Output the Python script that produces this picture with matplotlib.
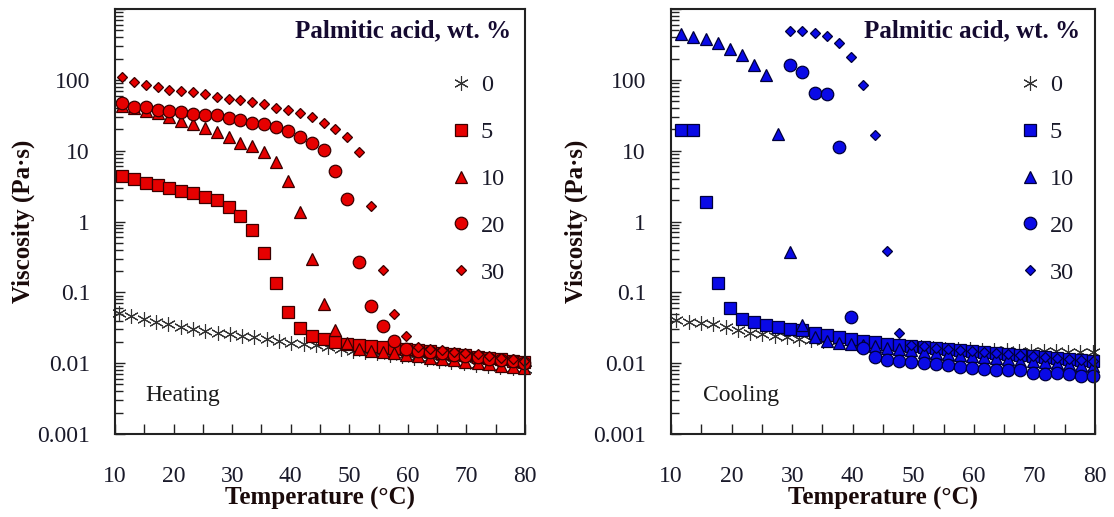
import matplotlib
matplotlib.use("Agg")
import matplotlib.pyplot as plt
from matplotlib.ticker import LogLocator, MultipleLocator, NullFormatter, FixedLocator

plt.rcParams["font.family"] = ["Liberation Serif", "DejaVu Serif"]

# ---------------- Heating (left panel) ----------------
heat_T_0 = [10.7, 12.8, 14.9, 17.0, 19.1, 21.2, 23.3, 25.4, 27.5, 29.6, 31.7, 33.8,
            35.9, 38.0, 40.1, 42.2, 44.3, 46.4, 48.5, 50.6, 52.7, 54.8, 56.9, 59.0,
            61.1, 63.2, 65.3, 67.4, 69.5, 71.6, 73.7, 75.8, 77.9, 80.0]
heat_0 = [0.0506, 0.0463, 0.0416, 0.0381, 0.0353, 0.0327, 0.0307, 0.0288, 0.0269,
          0.0258, 0.0242, 0.0232, 0.0217, 0.0208, 0.0195, 0.0187, 0.0179, 0.0167,
          0.0158, 0.0150, 0.0143, 0.0137, 0.0131, 0.0125, 0.0119, 0.0114, 0.0109,
          0.0104, 0.0099, 0.0095, 0.0091, 0.0088, 0.0085, 0.0082]

heat_T = [11.2, 13.2, 15.3, 17.3, 19.3, 21.3, 23.3, 25.3, 27.4, 29.4, 31.4, 33.4,
          35.5, 37.5, 39.5, 41.5, 43.6, 45.6, 47.6, 49.6, 51.6, 53.7, 55.7, 57.7,
          59.7, 61.7, 63.8, 65.8, 67.8, 69.8, 71.9, 73.9, 75.9, 77.9, 79.9]
heat_5 = [4.43, 3.98, 3.46, 3.27, 2.94, 2.72, 2.55, 2.24, 2.01, 1.59, 1.20, 0.76,
          0.356, 0.134, 0.0523, 0.031, 0.0242, 0.0222, 0.0201, 0.0187, 0.0179,
          0.0175, 0.0171, 0.0165, 0.0160, 0.0153, 0.0147, 0.0141, 0.0135, 0.0129,
          0.0123, 0.0118, 0.0113, 0.0108, 0.0103]
heat_10 = [42.7, 39.6, 36.7, 33.7, 30.2, 26.5, 23.8, 21.1, 18.2, 15.4, 13.0, 11.6,
           9.67, 6.84, 3.77, 1.36, 0.292, 0.0684, 0.0294, 0.0191, 0.0160, 0.0150,
           0.0145, 0.0138, 0.0132, 0.0126, 0.0120, 0.0115, 0.0110, 0.0105, 0.0100,
           0.0096, 0.0092, 0.0088, 0.0085]
heat_20 = [46.7, 41.8, 40.9, 37.5, 36.7, 34.8, 33.0, 31.9, 31.9, 28.6, 27.1, 24.8,
           23.8, 21.8, 19.1, 15.7, 13.0, 10.2, 5.21, 2.06, 0.265, 0.0649, 0.0338,
           0.0206, 0.0160, 0.0150, 0.0143, 0.0137, 0.0131, 0.0126, 0.0121, 0.0116,
           0.0111, 0.0106, 0.0102]
heat_30 = [111, 94, 85, 78, 73, 70, 68, 63, 58, 54, 52, 49, 45, 40, 37.5, 33.7,
           29.6, 24.8, 20, 15.7, 9.7, 1.66, 0.21, 0.049, 0.024, 0.017, 0.0160,
           0.0152, 0.0145, 0.0139, 0.0133, 0.0126, 0.0120, 0.0113, 0.0106]

# ---------------- Cooling (right panel) ----------------
cool_T_0 = [10.9, 12.9, 14.9, 17.0, 19.0, 21.0, 23.0, 25.1, 27.1, 29.1, 31.1, 33.1,
            35.1, 37.2, 39.2, 41.2, 43.2, 45.2, 47.3, 49.3, 51.3, 53.3, 55.3, 57.4,
            59.4, 61.4, 63.4, 65.4, 67.5, 69.5, 71.5, 73.5, 75.5, 77.6, 79.6]
cool_0 = [0.0406, 0.0385, 0.0365, 0.0357, 0.0327, 0.0294, 0.0269, 0.0258, 0.0242,
          0.0232, 0.0217, 0.0210, 0.0204, 0.0198, 0.0192, 0.0187, 0.0182, 0.0178,
          0.0174, 0.0170, 0.0167, 0.0164, 0.0161, 0.0158, 0.0156, 0.0154, 0.0152,
          0.0151, 0.0150, 0.0149, 0.0148, 0.0147, 0.0146, 0.0145, 0.0145]

cool_T = [11.7, 13.7, 15.7, 17.7, 19.7, 21.7, 23.7, 25.7, 27.7, 29.7, 31.7, 33.7,
          35.7, 37.7, 39.7, 41.7, 43.7, 45.7, 47.7, 49.7, 51.7, 53.7, 55.7, 57.7,
          59.7, 61.7, 63.7, 65.7, 67.7, 69.7, 71.7, 73.7, 75.7, 77.7, 79.7]
cool_5 = [19.6, 19.6, 1.87, 0.134, 0.0594, 0.0416, 0.0385, 0.0346, 0.0321, 0.0301,
          0.0294, 0.0269, 0.0250, 0.0232, 0.0217, 0.0206, 0.0197, 0.0187, 0.0180,
          0.0174, 0.0168, 0.0163, 0.0158, 0.0153, 0.0148, 0.0143, 0.0139, 0.0134,
          0.0130, 0.0126, 0.0122, 0.0118, 0.0114, 0.0110, 0.0106]
cool_10 = [440, 406, 373, 335, 273, 224, 162, 117, 17.0, 0.367, 0.0346, 0.0235,
           0.0205, 0.0195, 0.0188, 0.0180, 0.0172, 0.0165, 0.0158, 0.0152, 0.0146,
           0.0140, 0.0135, 0.0130, 0.0125, 0.0121, 0.0117, 0.0113, 0.0109, 0.0106,
           0.0103, 0.0100, 0.0097, 0.0094, 0.0092]
cool_T_hi = cool_T[9:]
cool_20 = [162, 128, 64.6, 63.1, 11.4, 0.0453, 0.0162, 0.0123, 0.0111, 0.0109,
           0.0105, 0.0100, 0.0097, 0.0095, 0.0089, 0.0085, 0.0083, 0.0080, 0.0080,
           0.0079, 0.0072, 0.0070, 0.0072, 0.0070, 0.0066, 0.0066]
cool_30 = [494, 494, 463, 416, 328, 212, 84.6, 16.6, 0.387, 0.0264, 0.0181, 0.0172,
           0.0166, 0.0160, 0.0154, 0.0149, 0.0144, 0.0139, 0.0134, 0.0130, 0.0126,
           0.0122, 0.0118, 0.0114, 0.0110, 0.0106]

labels = ["0", "5", "10", "20", "30"]
legend_title = "Palmitic acid, wt. %"

RED, RED_EDGE = "#e60000", "#3a0000"
BLUE, BLUE_EDGE = "#0a0ae6", "#00003a"
STAR = "#333333"

W, H = 1114, 517
fig = plt.figure(figsize=(W / 100, H / 100), dpi=100)
ax_h = fig.add_axes([115 / W, (H - 434) / H, 410 / W, 425 / H])
ax_c = fig.add_axes([671 / W, (H - 434) / H, 424 / W, 425 / H])


def draw_panel(ax, fill, edge, t0, v0, series):
    style = dict(linestyle="none", clip_on=False, markeredgewidth=0.9)
    hs = []
    h, = ax.plot(t0, v0, marker=(6, 2, 0), markersize=10.5, color=STAR,
                 markeredgewidth=0.8, linestyle="none", clip_on=False)
    hs.append(h)
    for (t, v, m, ms) in series:
        h, = ax.plot(t, v, marker=m, markersize=ms, markerfacecolor=fill,
                     markeredgecolor=edge, **style)
        hs.append(h)
    return hs


heat_series = [(heat_T, heat_5, "s", 8.4), (heat_T, heat_10, "^", 8.0),
               (heat_T, heat_20, "o", 9.0), (heat_T, heat_30, "D", 5.6)]
cool_series = [(cool_T, cool_5, "s", 8.4), (cool_T, cool_10, "^", 8.0),
               (cool_T_hi, cool_20, "o", 9.0), (cool_T_hi, cool_30, "D", 5.6)]

panels = [
    (ax_h, draw_panel(ax_h, RED, RED_EDGE, heat_T_0, heat_0, heat_series), "Heating", 0.818),
    (ax_c, draw_panel(ax_c, BLUE, BLUE_EDGE, cool_T_0, cool_0, cool_series), "Cooling", 0.822),
]

for ax, handles, mode, lx in panels:
    ax.set_yscale("log")
    ax.set_xlim(10, 80)
    ax.set_ylim(0.001, 1000)
    ax.xaxis.set_major_locator(MultipleLocator(10))
    ax.xaxis.set_minor_locator(MultipleLocator(5))
    ax.yaxis.set_major_locator(FixedLocator([0.001, 0.01, 0.1, 1, 10, 100, 1000]))
    ax.yaxis.set_major_formatter(matplotlib.ticker.FuncFormatter(
        lambda v, p: "" if v >= 1000 else ("%g" % v)))
    ax.yaxis.set_minor_locator(LogLocator(base=10, subs=range(2, 10), numticks=20))
    ax.yaxis.set_minor_formatter(NullFormatter())
    ax.tick_params(axis="both", which="both", direction="in", top=False, right=False,
                   color="#222222", width=1.0)
    ax.tick_params(axis="x", which="both", length=7, pad=23, labelsize=17,
                   labelcolor="#1a1a2a")
    ax.tick_params(axis="y", which="major", length=7, pad=18, labelsize=17,
                   labelcolor="#1a1a2a")
    ax.tick_params(axis="y", which="minor", length=6)
    for sp in ax.spines.values():
        sp.set_linewidth(1.5)
        sp.set_color("#222222")

    ax.set_xlabel("Temperature (°C)", fontsize=18, fontweight="bold", color="#1a0a0a")
    ax.set_ylabel("Viscosity (Pa·s)", fontsize=18, fontweight="bold", color="#1a0a0a")
    ax.xaxis.set_label_coords(0.5, -0.125)
    ax.yaxis.set_label_coords(-0.196, 0.5)

    ax.text(0.075, 0.09, mode, transform=ax.transAxes, fontsize=17,
            color="#1a1a1a", ha="left", va="center")
    ax.text(0.965, 0.948, legend_title, transform=ax.transAxes, fontsize=18,
            fontweight="bold", color="#150a30", ha="right", va="center")
    leg = ax.legend(handles, labels, loc="upper left", bbox_to_anchor=(lx, 0.846),
                    frameon=False, fontsize=17.5, handlelength=0.9, handletextpad=0.35,
                    labelspacing=1.02, borderpad=0, borderaxespad=0, numpoints=1)
    for t in leg.get_texts():
        t.set_color("#1a1a2a")

fig.savefig("out.png", dpi=100)
